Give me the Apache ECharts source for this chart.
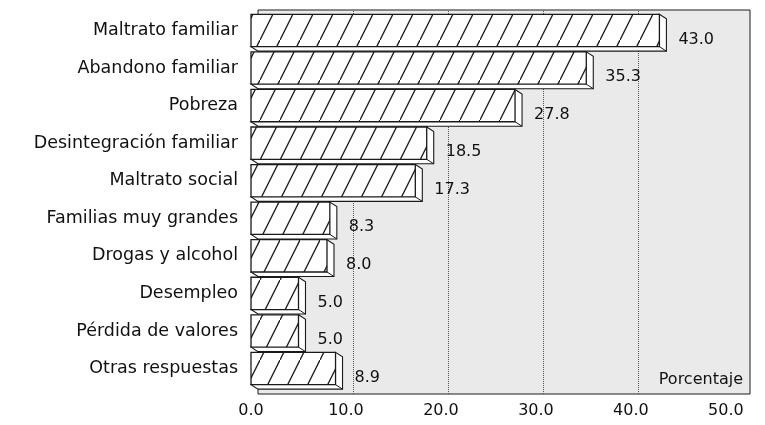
<!DOCTYPE html>
<html>
<head>
<meta charset="utf-8">
<script src="https://cdn.jsdelivr.net/npm/echarts@6/dist/echarts.min.js"></script>
<style>
  html, body { margin: 0; padding: 0; background: #fff; }
  #chartBar { width: 765px; height: 425px; }
</style>
</head>
<body>
<div id="chartBar"></div>
<script>
// datos
var categorias = ['Maltrato familiar', 'Abandono familiar', 'Pobreza', 'Desintegración familiar', 'Maltrato social',
  'Familias muy grandes', 'Drogas y alcohol', 'Desempleo', 'Pérdida de valores', 'Otras respuestas']
var valores = [43.0, 35.3, 27.8, 18.5, 17.3, 8.3, 8.0, 5.0, 5.0, 8.9]
var lineasGuia = [10, 20, 30, 40]
var ejeMax = 51.8

var fuente = 'DejaVu Sans'
var dx = 7, dy = 4.5

// rayado diagonal de las barras
var rayado = document.createElement('canvas')
rayado.width = 20
rayado.height = 40
var ctx = rayado.getContext('2d')
ctx.fillStyle = '#fff'
ctx.fillRect(0, 0, 20, 40)
ctx.strokeStyle = '#1e1e1e'
ctx.lineWidth = 1.4
ctx.beginPath()
ctx.moveTo(-2, 44)
ctx.lineTo(22, -4)
ctx.stroke()

var datos = []
for (let i = 0; i < valores.length; i++) {
  datos.push([valores[i], i])
}

function dibujaBarra(params, api) {
  var v = api.value(0)
  var c = api.value(1)
  var p0 = api.coord([0, c])
  var p1 = api.coord([v, c])
  var banda = api.size([0, 1])[1]
  var h = banda * 0.86
  var x0 = p0[0], x1 = p1[0]
  var y0 = p0[1] - h / 2, y1 = y0 + h
  return {
    type: 'group',
    children: [
      {
        type: 'polygon',
        shape: { points: [[x1, y0], [x1 + dx, y0 + dy], [x1 + dx, y1 + dy], [x0 + dx, y1 + dy], [x0, y1]] },
        style: { fill: '#fff', stroke: '#1a1a1a', lineWidth: 1.1 }
      },
      {
        type: 'line',
        shape: { x1: x1, y1: y1, x2: x1 + dx, y2: y1 + dy },
        style: { stroke: '#1a1a1a', lineWidth: 1 }
      },
      {
        type: 'rect',
        shape: { x: x0, y: y0, width: x1 - x0, height: h },
        style: { fill: { image: rayado, repeat: 'repeat' }, stroke: '#1a1a1a', lineWidth: 1.3 }
      },
      {
        type: 'text',
        style: {
          text: v.toFixed(1),
          x: x1 + dx + 12,
          y: y0 + h / 2 + 9,
          verticalAlign: 'middle',
          fill: '#111',
          font: '16px "' + fuente + '"'
        }
      }
    ]
  }
}

var myChart = echarts.init(document.getElementById('chartBar'))
myChart.setOption({
  animation: false,
  grid: [
    // plano de las barras
    { left: 251, right: 22, top: 11.7, bottom: 37.7 },
    // pared del fondo
    { left: 258, right: 15, top: 10, bottom: 31, show: true, backgroundColor: '#eaeaea', borderColor: '#1a1a1a', borderWidth: 1, z: 0 }
  ],
  xAxis: [
    {
      gridIndex: 0,
      type: 'value',
      min: 0,
      max: ejeMax,
      interval: 10,
      axisLine: { show: false },
      axisTick: { show: false },
      splitLine: { show: false },
      axisLabel: {
        margin: 16,
        fontFamily: fuente,
        fontSize: 16,
        color: '#111',
        formatter: function (v) { return v % 10 === 0 ? v.toFixed(1) : '' }
      }
    },
    {
      gridIndex: 1,
      type: 'value',
      min: 0,
      max: ejeMax,
      show: false
    }
  ],
  yAxis: [
    {
      gridIndex: 0,
      type: 'category',
      inverse: true,
      data: categorias,
      axisLine: { show: false },
      axisTick: { show: false },
      axisLabel: { margin: 13, padding: [5, 0, 0, 0], fontFamily: fuente, fontSize: 17.5, color: '#111' }
    },
    { gridIndex: 1, type: 'value', min: 0, max: 1, show: false }
  ],
  graphic: [
    {
      type: 'text',
      right: 22,
      bottom: 37,
      style: { text: 'Porcentaje', fill: '#111', font: '16px "' + fuente + '"' }
    }
  ],
  series: [
    {
      type: 'line',
      xAxisIndex: 1,
      yAxisIndex: 1,
      data: [],
      z: 1,
      markLine: {
        silent: true,
        symbol: 'none',
        z: 1,
        label: { show: false },
        lineStyle: { type: 'dotted', color: '#555', width: 1 },
        data: lineasGuia.map(function (g) { return { xAxis: g } })
      }
    },
    {
      type: 'custom',
      xAxisIndex: 0,
      yAxisIndex: 0,
      z: 3,
      encode: { x: 0, y: 1 },
      renderItem: dibujaBarra,
      data: datos
    }
  ]
})
</script>
</body>
</html>
